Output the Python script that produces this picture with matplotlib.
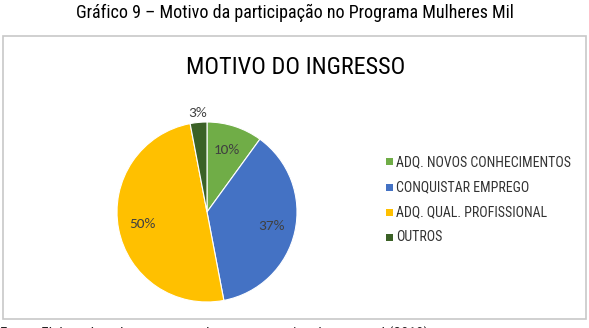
import numpy as np
import matplotlib.pyplot as plt
from matplotlib.patches import Rectangle
from matplotlib import font_manager

# data
categories = ['ADQ. NOVOS CONHECIMENTOS', 'CONQUISTAR EMPREGO', 'ADQ. QUAL. PROFISSIONAL', 'OUTROS']
values = [10, 37, 50, 3]
colors = ['#70AD47', '#4472C4', '#FFC000', '#3B6126']

names = set(f.name for f in font_manager.fontManager.ttflist)

def pick(cands):
	for c in cands:
		if c in names:
			return c
	return 'DejaVu Sans'

narrow = pick(['Liberation Sans Narrow', 'Arial Narrow', 'Roboto Condensed', 'Archivo Narrow', 'Asap Condensed'])
calib = pick(['Carlito', 'Calibri', 'Lato', 'Open Sans'])
plt.rcParams['font.family'] = [narrow, 'DejaVu Sans']

W, H = 589, 328
fig = plt.figure(figsize=(W / 100, H / 100), dpi=100)

def fx(px):
	return px / W

def fy(py):
	return 1 - py / H

# chart frame
fig.patches.append(Rectangle((fx(3), fy(319)), fx(583), 283 / H, transform=fig.transFigure,
	fill=False, edgecolor='#C8C8C8', linewidth=1.2))

fig.text(fx(295), fy(13), 'Gráfico 9 – Motivo da participação no Programa Mulheres Mil',
	ha='center', va='center', fontsize=13, color='#000000')
fig.text(fx(296), fy(68), 'MOTIVO DO INGRESSO', ha='center', va='center',
	fontsize=17.5, color='#000000')
fig.text(fx(0), fy(326.5), 'Fonte: Elaborado pela autora com base na pesquisa documental (2018)',
	ha='left', va='top', fontsize=11, color='#222222')

cx, cy, r = 207, 212, 90
ax = fig.add_axes([fx(cx - r), fy(cy + r), 2 * r / W, 2 * r / H])
wedges, _ = ax.pie(values, colors=colors, startangle=90, counterclock=False,
	wedgeprops=dict(edgecolor='white', linewidth=0.8))
ax.set_xlim(-1, 1)
ax.set_ylim(-1, 1)
ax.set_aspect('auto')

# percent labels
total = float(sum(values))
start = 90.0
for v, w in zip(values, wedges):
	mid = start - 360 * v / total / 2
	start -= 360 * v / total
	d = 0.73 if v >= 5 else 1.11
	a = np.deg2rad(mid)
	ax.text(d * np.cos(a), d * np.sin(a), '%d%%' % v, ha='center', va='center',
		fontsize=11, color='#404040', family=[calib, 'DejaVu Sans'])

# legend
leg_y = [162, 187, 212, 237]
for name, col, py in zip(categories, colors, leg_y):
	fig.patches.append(Rectangle((fx(386), fy(py + 3.5)), fx(7), 7 / H, transform=fig.transFigure,
		facecolor=col, edgecolor='none'))
	fig.text(fx(396), fy(py), name, ha='left', va='center', fontsize=10, color='#333333')

fig.savefig('out.png', dpi=100)
